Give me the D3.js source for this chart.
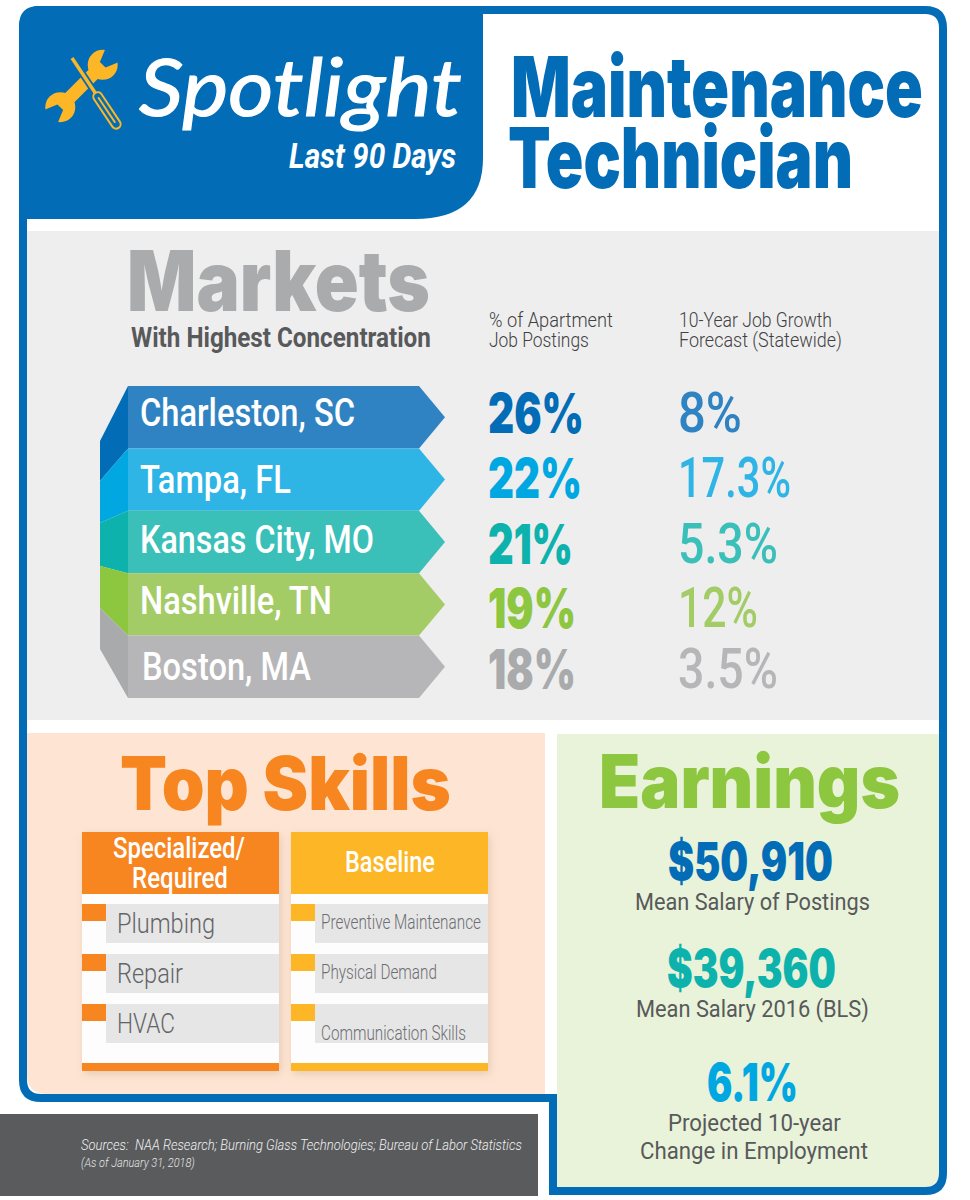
<!DOCTYPE html>
<html>
<head>
<meta charset="utf-8">
<title>Spotlight - Maintenance Technician</title>
<script src="https://d3js.org/d3.v7.min.js"></script>
<style>
  html, body { margin: 0; padding: 0; background: #fff; }
  svg { display: block; }
  text { font-family: Roboto, "Open Sans", sans-serif; white-space: pre; }
</style>
</head>
<body>
<script>
// data
var markets = ['Charleston, SC', 'Tampa, FL', 'Kansas City, MO', 'Nashville, TN', 'Boston, MA'];
var postingShare = [26, 22, 21, 19, 18];
var growthForecast = [8, 17.3, 5.3, 12, 3.5];
var specialized = ['Plumbing', 'Repair', 'HVAC'];
var baseline = ['Preventive Maintenance', 'Physical Demand', 'Communication Skills'];
var salaryValues = ['$50,910', '$39,360'];
var salaryLabels = ['Mean Salary of Postings', 'Mean Salary 2016 (BLS)'];

// colours
var blue = '#026cb6', orange = '#f78520', amber = '#fdb626', grey = '#58595b';
var darkShades = ['#026cb6', '#00a7e1', '#0db2ad', '#8dc63f', '#a9aaac'];
var lightShades = ['#3083c2', '#2fb4e6', '#3abfb9', '#a3cc66', '#b6b6b8'];

var width = 970, height = 1200;

var svg = d3.select('body').append('svg')
	.attr('width', width)
	.attr('height', height);

// soft shadow for the skill cards
var shadow = svg.append('defs').append('filter')
	.attr('id', 'soft')
	.attr('x', '-10%').attr('y', '-10%').attr('width', '120%').attr('height', '120%');
shadow.append('feDropShadow')
	.attr('dx', 2).attr('dy', 3).attr('stdDeviation', 4)
	.attr('flood-color', '#b08a70').attr('flood-opacity', 0.3);

// draws one line of text and squeezes it to the width measured on the reference
function label(parent, str, x, y, w, size, weight, fill, italic, family) {
	var t = parent.append('text')
		.attr('font-size', size)
		.attr('font-weight', weight)
		.attr('font-style', italic ? 'italic' : 'normal')
		.attr('fill', fill)
		.text(str);
	if (family) t.style('font-family', family);
	var k = w / t.node().getComputedTextLength();
	t.attr('transform', 'translate(' + x + ',' + y + ') scale(' + k + ',1)');
	return t;
}

// the big black titles and figures, Inter is the closest to the original face
function heavy(parent, str, x, y, w, size, fill) {
	return label(parent, str, x, y, w, size, 900, fill, false, 'Inter, Roboto, sans-serif');
}

// panels
svg.append('rect').attr('x', 27).attr('y', 231).attr('width', 913).attr('height', 489).attr('fill', '#eeeeee');
svg.append('path').attr('d', 'M27,733H545V1094H47Q27,1094 27,1074Z').attr('fill', '#fee5d3');
svg.append('path').attr('d', 'M557,734H940V1170Q940,1187 923,1187H557Z').attr('fill', '#e8f3d9');
svg.append('rect').attr('x', 0).attr('y', 1114).attr('width', 538).attr('height', 82).attr('fill', '#5a5b5d');

// outer blue frame with the step at the bottom
svg.append('path')
	.attr('d', 'M41,10H925Q943,10 943,28V1173Q943,1191 925,1191H553V1098H41Q23,1098 23,1080V28Q23,10 41,10Z')
	.attr('fill', 'none')
	.attr('stroke', blue)
	.attr('stroke-width', 8);

// header tab
svg.append('path')
	.attr('d', 'M19,26Q19,6 39,6H483V158Q483,219 415,219H19Z')
	.attr('fill', blue);

// wrench
var tool = svg.append('g').attr('fill', amber);
var wrench = tool.append('g').attr('transform', 'translate(81.5,86) rotate(-45)');
wrench.append('rect').attr('x', -30).attr('y', -6.5).attr('width', 60).attr('height', 13);
[-1, 1].forEach(function(s) {
	wrench.append('circle').attr('cx', s * 30).attr('cy', 0).attr('r', 15);
	wrench.append('path')
		.attr('transform', 'translate(' + (s * 30) + ',0) scale(' + s + ',1)')
		.attr('d', 'M0,-4L5,-6L17,-11V11L5,6L0,4Z')
		.attr('fill', blue);
});

// screwdriver
var driver = tool.append('g').attr('transform', 'translate(72,58) rotate(56.3)');
driver.append('rect').attr('x', -2).attr('y', -3.5).attr('width', 44).attr('height', 7).attr('fill', blue);
driver.append('rect').attr('x', 0).attr('y', -1.7).attr('width', 45).attr('height', 3.4);
driver.append('rect').attr('x', 42).attr('y', -4.5).attr('width', 42).attr('height', 9).attr('rx', 4.5)
	.attr('fill', blue).attr('stroke', amber).attr('stroke-width', 2);
driver.append('rect').attr('x', 47).attr('y', -1).attr('width', 31).attr('height', 2).attr('rx', 1);

// header text
label(svg, 'Spotlight', 139, 116, 323, 80, 400, '#fff', true, 'Lato, Roboto, sans-serif')
	.attr('stroke', '#fff').attr('stroke-width', 1.2);
label(svg, 'Last 90 Days', 289, 168, 167, 35, 700, '#fff', true);
heavy(svg, 'Maintenance', 511, 117, 412, 84, blue);
heavy(svg, 'Technician', 508, 188, 345, 84, blue);

// markets block
heavy(svg, 'Markets', 127, 311, 303, 84, '#aaabad');
label(svg, 'With Highest Concentration', 131, 347, 300, 28, 700, grey);
label(svg, '% of Apartment', 489, 327, 124, 21, 300, '#414042');
label(svg, 'Job Postings', 489, 347, 100, 21, 300, '#414042');
label(svg, '10-Year Job Growth', 679, 327, 153, 21, 300, '#414042');
label(svg, 'Forecast (Statewide)', 679, 347, 163, 21, 300, '#414042');

// one band per market, all ribbons the same length
var row = d3.scaleBand().domain(markets).range([386, 698]);

// the fold on the left of the ribbons, same number of steps as the bands
var foldY = [441, 481, 523, 566, 608, 649];
var ribbon = svg.append('g').selectAll('g')
	.data(markets)
	.enter().append('g');

ribbon.append('path')
	.attr('d', function(d, i) {
		var t = row(d), b = t + row.bandwidth();
		return 'M128,' + t + 'V' + b + 'L100,' + foldY[i + 1] + 'V' + foldY[i] + 'Z';
	})
	.attr('fill', function(d, i) { return darkShades[i]; });

ribbon.append('path')
	.attr('d', function(d, i) {
		var t = row(d), h = row.bandwidth();
		return 'M128,' + t + 'H419L445,' + (t + h / 2) + 'L419,' + (t + h) + 'H128Z';
	})
	.attr('fill', function(d, i) { return lightShades[i]; });

// widths and small baseline offsets of the market rows
var nameW = [215, 151, 234, 192, 169];
var nameDy = [40, 45, 42, 41, 44];
markets.forEach(function(d, i) {
	label(svg, d, i == 4 ? 142 : 140, row(d) + nameDy[i], nameW[i], 39, 500, '#fff');
});

var shareW = [96, 94, 85, 88, 88];
var growthW = [64, 113, 100, 80, 100];
var valueDy = [47, 50, 53, 55, 53];
markets.forEach(function(d, i) {
	heavy(svg, postingShare[i] + '%', 488, row(d) + valueDy[i], shareW[i], 55, darkShades[i]);
	label(svg, growthForecast[i] + '%', 678, row(d) + valueDy[i] - 1, growthW[i], 56, 500, lightShades[i]);
});

// skills block
heavy(svg, 'Top Skills', 120, 810, 331, 74, orange);

var slot = d3.scaleBand().domain([0, 1, 2]).range([904, 1054]);

function card(x, colour, items, textX, textW, size, textY, fill) {
	var g = svg.append('g');
	g.append('rect').attr('x', x).attr('y', 832).attr('width', 197).attr('height', 239)
		.attr('fill', '#fdfdfd').attr('filter', 'url(#soft)');
	g.append('rect').attr('x', x).attr('y', 832).attr('width', 197).attr('height', 62).attr('fill', colour);
	g.append('rect').attr('x', x).attr('y', 1063).attr('width', 197).attr('height', 8).attr('fill', colour);
	items.forEach(function(d, i) {
		g.append('rect').attr('x', x + 24).attr('y', slot(i)).attr('width', 173).attr('height', 39).attr('fill', '#e6e6e7');
		g.append('rect').attr('x', x).attr('y', slot(i)).attr('width', 24).attr('height', 17).attr('fill', colour);
		label(g, d, textX, textY[i], textW[i], size, 300, fill);
	});
}

card(82, orange, specialized, 117, [98, 66, 58], 28, [933, 983, 1033], '#636466');
card(291, amber, baseline, 321, [160, 116, 145], 19.5, [929, 979, 1040], '#6d6e71');

label(svg, 'Specialized/', 113, 858, 132, 29, 500, '#fff');
label(svg, 'Required', 132, 888, 96, 29, 500, '#fff');
label(svg, 'Baseline', 345, 872, 90, 29, 500, '#fff');

// earnings block
heavy(svg, 'Earnings', 599, 808, 301, 74, darkShades[3]);

var salaryX = [668, 667], salaryW = [165, 169], salaryY = [880, 987];
var captionX = [635, 636], captionW = [235, 233], captionY = [910, 1017];
salaryValues.forEach(function(d, i) {
	heavy(svg, d, salaryX[i], salaryY[i], salaryW[i], 52, i ? darkShades[2] : blue);
	label(svg, salaryLabels[i], captionX[i], captionY[i], captionW[i], 24, 400, grey);
});

heavy(svg, '6.1%', 707, 1101, 91, 52, darkShades[1]);
label(svg, 'Projected 10-year', 668, 1131, 173, 24, 400, grey);
label(svg, 'Change in Employment', 640, 1159, 228, 24, 400, grey);

// footer
label(svg, 'Sources:  NAA Research; Burning Glass Technologies; Bureau of Labor Statistics', 81, 1150, 441, 14.5, 300, '#f1f1f2', true);
label(svg, '(As of January 31, 2018)', 81, 1167, 114, 12, 300, '#e6e7e8', true);
</script>
</body>
</html>
